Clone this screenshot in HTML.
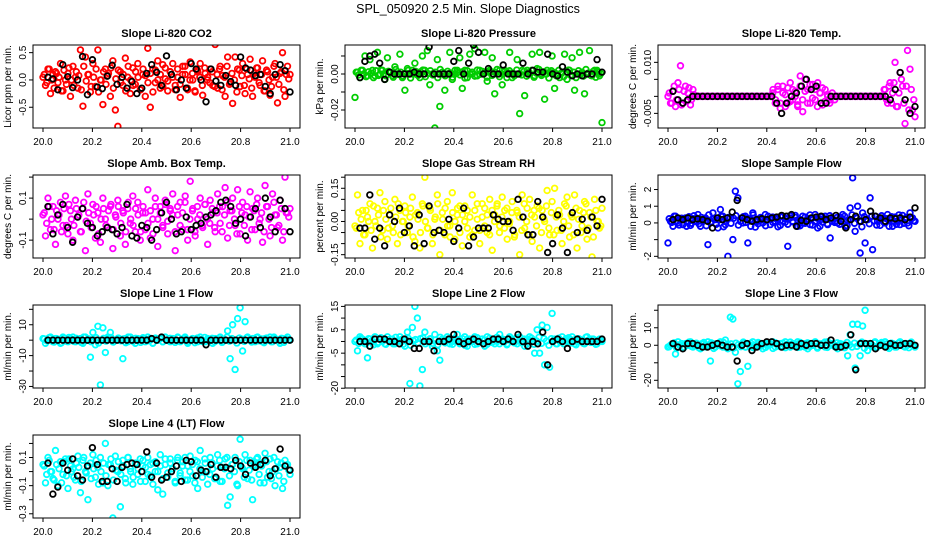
<!DOCTYPE html>
<html><head><meta charset="utf-8"><style>
html,body{margin:0;padding:0;background:#fff;}
svg{display:block;font-family:"Liberation Sans",Arial,sans-serif;}
</style></head><body>
<svg id="chart" width="936" height="540" viewBox="0 0 936 540" xmlns="http://www.w3.org/2000/svg">
<rect width="936" height="540" fill="#fff"/>
<text x="468" y="13" text-anchor="middle" font-size="12.5">SPL_050920  2.5 Min. Slope Diagnostics</text>
</svg>
<script>
const xTicks = [20.0, 20.2, 20.4, 20.6, 20.8, 21.0];
const xTickLabels = ["20.0", "20.2", "20.4", "20.6", "20.8", "21.0"];
const panelTitles = ["Slope Li-820 CO2","Slope Li-820 Pressure","Slope Li-820 Temp.","Slope Amb. Box Temp.","Slope Gas Stream RH","Slope Sample Flow","Slope Line 1 Flow","Slope Line 2 Flow","Slope Line 3 Flow","Slope Line 4 (LT) Flow"];
const yTitles = ["Licor ppm per min.","kPa per min.","degrees C per min.","degrees C per min.","percent per min.","ml/min per min.","ml/min per min.","ml/min per min.","ml/min per min.","ml/min per min."];
const seriesColors = ["#ff0000","#00cd00","#ff00ff","#ff00ff","#ffff00","#0000ff","#00ffff","#00ffff","#00ffff","#00ffff"];
const yDomains = [[-0.88,0.64],[-0.030,0.0161],[-0.0093,0.0151],[-0.185,0.21],[-0.165,0.21],[-2.1,2.87],[-31,22.8],[-19.9,15.6],[-24.4,23],[-0.33,0.26]];
const yTicks = [[-0.5,0,0.5],[-0.02,-0.01,0,0.01],[-0.005,0,0.005,0.01],[-0.1,0,0.1,0.2],[-0.15,-0.1,-0.05,0,0.05,0.1,0.15,0.2],[-2,-1,0,1,2],[-30,-20,-10,0,10,20],[-20,-15,-10,-5,0,5,10,15],[-20,-10,0,10,20],[-0.3,-0.2,-0.1,0,0.1,0.2]];
const yTickLabels = [{"-0.5":"-0.5","0":"0.0","0.5":"0.5"},{"-0.02":"-0.02","0":"0.00"},{"-0.005":"-0.005","0.01":"0.010"},{"-0.1":"-0.1","0.1":"0.1"},{"-0.15":"-0.15","0":"0.00","0.15":"0.15"},{"-2":"-2","0":"0","1":"1","2":"2"},{"-30":"-30","-10":"-10","10":"10"},{"-20":"-20","-5":"-5","5":"5","15":"15"},{"-20":"-20","0":"0","10":"10"}, {"-0.3":"-0.3","-0.1":"-0.1","0.1":"0.1"}];

const co2 = [0.05,-0.1,0.2,-0.25,0.1,0.15,-0.05,0.3,-0.2,0.0,0.12,-0.3,0.25,0.05,-0.15,0.55,-0.48,0.42,0.1,-0.22,0.3,-0.12,0.55,0.0,-0.45,0.2,0.08,-0.3,0.35,-0.55,-0.85,0.15,-0.1,0.4,0.05,-0.25,0.22,-0.08,0.3,-0.18,0.1,-0.3,0.58,-0.5,0.2,-0.05,0.35,-0.15,0.28,0.02,-0.2,0.15,0.3,-0.1,0.05,-0.32,0.25,0.1,-0.18,0.33,0.0,-0.22,0.15,0.3,-0.28,0.12,0.05,0.2,-0.1,0.65,-0.15,0.25,0.08,-0.3,0.42,-0.05,-0.43,0.42,0.2,-0.12,0.3,-0.25,0.1,0.38,-0.3,0.05,0.22,-0.1,0.35,-0.2,0.15,-0.28,0.05,0.3,-0.42,0.12,0.5,-0.3,0.25,0.1];
const co2Core = [0.1,-0.05,0.2,0.0,-0.15,0.12,0.05,-0.2,0.18,-0.08,0.22,0.0,-0.1,0.15,0.08,-0.18,0.25,-0.02,0.1,-0.12,0.05,0.2,-0.22,0.0,0.15,-0.08,0.12,0.22,-0.15,0.02,0.18,-0.05,0.1,-0.2,0.25,0.0,-0.1,0.15,0.05,-0.18,0.2,0.08,-0.05,0.12,-0.22,0.18,0.0,0.1,-0.12,0.22,-0.02,0.15,0.05,-0.18,0.2,-0.08,0.1,0.25,-0.15,0.0,0.12,-0.2,0.18,0.05,-0.1,0.22,0.0,-0.05,0.15,-0.12,0.1,0.2,-0.18,0.05,0.25,-0.08,0.12,0.0,-0.22,0.18,0.08,-0.1,0.2,0.02,-0.15,0.12,0.22,-0.05,0.1,-0.2,0.18,0.0,-0.12,0.25,0.05,-0.08,0.15,-0.18,0.1,0.02];
const co2Black = [0.05,0.02,-0.18,0.28,0.06,-0.14,0.0,0.43,-0.27,0.37,-0.13,-0.16,0.07,0.27,-0.08,0.05,-0.15,-0.03,-0.25,-0.15,0.12,0.28,0.14,-0.1,0.44,0.1,-0.18,0.0,-0.15,0.3,0.2,0.0,-0.4,0.2,-0.02,-0.1,0.08,-0.03,-0.1,0.42,0.22,0.18,0.08,0.1,-0.12,-0.25,0.1,0.28,0.17,-0.22];
const pressure = [-0.013,0.001,-0.002,0.002,0.01,-0.001,0.008,0.002,-0.001,0.012,0.0,0.002,-0.003,0.009,0.001,-0.001,0.004,0.0,0.011,-0.002,-0.009,0.003,0.0,0.002,0.006,0.0,-0.002,0.01,0.002,0.013,-0.006,0.0,-0.03,0.008,-0.018,0.001,-0.009,0.0,0.012,-0.003,0.0,0.002,0.009,-0.008,0.002,-0.002,0.011,0.0,0.014,-0.001,0.002,0.0,0.012,-0.004,0.001,0.009,-0.011,0.0,0.002,-0.006,0.002,0.001,0.012,-0.002,0.0,0.008,-0.022,0.002,-0.012,0.002,0.0,0.011,-0.001,0.003,0.012,0.0,-0.014,0.002,0.001,0.01,-0.008,0.0,-0.002,0.001,0.011,-0.003,0.002,0.009,-0.009,0.0,0.012,0.001,-0.011,0.0,0.013,-0.001,0.002,0.002,-0.001,-0.027];
const pressureCore = [0.001,-0.0005,0.002,0.0,-0.0015,0.0012,0.0005,-0.002,0.0018,-0.0008,0.0022,0.0,-0.001,0.0015,0.0008,-0.0018,0.0025,-0.0002,0.001,-0.0012,0.0005,0.002,-0.0022,0.0,0.0015,-0.0008,0.0012,0.0022,-0.0015,0.0002,0.0018,-0.0005,0.001,-0.002,0.0025,0.0,-0.001,0.0015,0.0005,-0.0018,0.002,0.0008,-0.0005,0.0012,-0.0022,0.0018,0.0,0.001,-0.0012,0.0022,-0.0002,0.0015,0.0005,-0.0018,0.002,-0.0008,0.001,0.0025,-0.0015,0.0,0.0012,-0.002,0.0018,0.0005,-0.001,0.0022,0.0,-0.0005,0.0015,-0.0012,0.001,0.002,-0.0018,0.0005,0.0025,-0.0008,0.0012,0.0,-0.0022,0.0018,0.0008,-0.001,0.002,0.0002,-0.0015,0.0012,0.0022,-0.0005,0.001,-0.002,0.0018,0.0,-0.0012,0.0025,0.0005,-0.0008,0.0015,-0.0018,0.001,0.0002];
const pressureBlack = [-0.002,0.007,0.01,0.011,0.006,-0.003,0.001,0.0,0.0,0.0,0.0,0.001,0.0,0.0,0.015,0.0,0.0,0.0,0.0,0.007,0.013,0.0,0.006,0.016,0.012,0.0,0.003,0.0,0.0,0.005,0.0,0.0,0.0,0.006,0.0,0.002,0.001,0.001,0.011,0.0,-0.001,0.004,0.001,-0.001,0.0,-0.001,0.0,0.0,0.008,0.001];
const licorTemp = [0,-0.002,0.0015,-0.003,0.004,0.009,-0.002,0.003,0.001,-0.0025,0.002,0,0,0,0,0,0,0,0,0,0,0,0,0,0,0,0,0,0,0,0,0,0,0,0,0,0,0,0,0,0,0,0.001,-0.002,0.002,-0.0035,0.003,0.0005,-0.002,0.004,-0.001,0.0015,-0.003,0.006,-0.0045,0.005,0.002,-0.002,0.0035,-0.001,0.004,0.001,-0.0025,0.002,0.0,-0.001,0.0,0.0,0,0,0,0,0,0,0,0,0,0,0,0,0,0,0,0,0,0,0,0.002,-0.002,0.004,0.001,0.01,-0.003,0.007,0.003,-0.008,0.0135,0.008,-0.004,-0.006];
const licorTempCore = [0.001,-0.002,0.003,-0.001,0.002,-0.0025,0.0015,-0.0015,0.0025,-0.001,0.0005,0,0,0,0,0,0,0,0,0,0,0,0,0,0,0,0,0,0,0,0,0,0,0,0,0,0,0,0,0,0,0,0.002,-0.001,0.003,-0.002,0.001,-0.003,0.0025,-0.0015,0.002,0.0,-0.0025,0.003,-0.001,0.0015,-0.002,0.0035,-0.0005,0.002,-0.003,0.001,0.0025,-0.0015,0.0005,-0.002,0.001,-0.001,0,0,0,0,0,0,0,0,0,0,0,0,0,0,0,0,0,0,0,0.002,-0.001,0.003,-0.002,0.004,-0.003,0.001,0.005,-0.002,0.003,-0.004,0.002,-0.001];
const licorTempBlack = [0.0015,-0.001,-0.002,-0.001,0,0,0,0,0,0,0,0,0,0,0,0,0,0,0,0,0,-0.002,-0.005,-0.002,0,0.001,0.003,0.005,0.002,0.003,-0.002,-0.002,0.0,0,0,0,0,0,0,0,0,0,0,0,-0.001,0.002,0.007,-0.001,-0.005,-0.003];
const ambTemp = [0.02,-0.08,0.1,-0.05,0.06,-0.12,0.0,0.08,-0.03,0.11,-0.07,0.04,-0.1,0.09,0.01,-0.06,0.05,-0.15,0.12,-0.02,0.07,-0.09,0.03,-0.11,0.1,0.0,-0.04,0.06,-0.14,0.02,0.09,-0.08,0.04,-0.12,0.05,-0.02,0.11,-0.06,0.08,-0.1,0.03,-0.05,0.14,-0.09,0.0,0.1,-0.13,0.06,-0.03,0.09,-0.07,0.04,0.12,-0.15,0.02,0.08,-0.05,0.11,-0.1,0.18,0.05,-0.08,0.0,0.1,-0.04,0.07,-0.12,0.09,0.03,-0.06,0.12,-0.02,0.06,0.15,-0.09,0.04,0.1,-0.03,0.14,-0.07,0.08,0.02,-0.1,0.13,0.05,-0.05,0.1,0.0,-0.11,0.16,0.06,-0.08,0.12,0.02,-0.04,0.09,-0.1,0.2,0.03,0.05];
const ambTempCore = [0.03,-0.02,0.06,0.0,-0.05,0.04,0.02,-0.06,0.05,-0.03,0.07,0.0,-0.03,0.05,0.02,-0.06,0.08,-0.01,0.03,-0.04,0.02,0.06,-0.07,0.0,0.05,-0.03,0.04,0.07,-0.05,0.01,0.06,-0.02,0.03,-0.06,0.08,0.0,-0.03,0.05,0.02,-0.06,0.06,0.03,-0.02,0.04,-0.07,0.06,0.0,0.03,-0.04,0.07,-0.01,0.05,0.02,-0.06,0.06,-0.03,0.03,0.08,-0.05,0.0,0.04,-0.06,0.06,0.02,-0.03,0.07,0.0,-0.02,0.05,-0.04,0.03,0.06,-0.06,0.02,0.08,-0.03,0.04,0.0,-0.07,0.06,0.03,-0.03,0.06,0.01,-0.05,0.04,0.07,-0.02,0.03,-0.06,0.06,0.0,-0.04,0.08,0.02,-0.03,0.05,-0.06,0.03,0.01];
const ambTempBlack = [0.06,-0.07,0.02,0.07,-0.04,-0.11,0.01,0.05,-0.02,-0.04,-0.08,-0.06,-0.04,-0.05,-0.07,-0.04,0.07,-0.08,-0.09,-0.03,-0.04,-0.1,-0.05,0.03,0.08,0.0,-0.07,-0.06,0.01,-0.05,-0.03,-0.02,0.01,0.02,0.04,0.08,0.09,0.06,-0.02,0.0,-0.08,0.01,0.05,-0.04,0.1,0.01,-0.06,0.09,0.05,-0.06];
const rh = [-0.02,0.12,-0.1,0.05,-0.06,0.02,0.08,-0.12,0.0,0.06,0.13,-0.04,0.09,-0.08,0.03,-0.02,0.1,-0.1,0.05,0.0,0.07,-0.05,0.02,0.11,-0.09,0.04,-0.12,0.08,0.2,-0.03,0.06,-0.1,0.01,0.12,-0.15,0.04,-0.06,0.09,-0.02,0.13,-0.08,0.03,0.07,-0.11,0.0,0.05,-0.07,0.12,-0.04,0.08,-0.1,0.02,0.06,-0.05,0.1,-0.13,0.03,0.08,-0.02,0.11,0.05,-0.08,0.0,0.09,-0.06,0.04,-0.15,0.12,-0.03,0.06,0.1,-0.09,0.02,0.07,-0.12,0.05,0.0,0.14,-0.06,0.09,0.15,-0.04,0.03,-0.1,0.08,0.11,-0.07,0.02,0.12,-0.12,0.05,-0.02,0.09,-0.08,0.04,-0.16,0.1,0.0,-0.03,0.06];
const rhCore = [-0.03,0.04,0.01,-0.06,0.05,0.0,-0.04,0.07,-0.02,0.03,-0.07,0.05,0.01,-0.03,0.06,-0.05,0.02,0.08,-0.06,0.0,0.04,-0.02,0.06,-0.07,0.03,0.01,-0.05,0.07,0.0,-0.03,0.05,-0.06,0.02,0.08,-0.04,0.01,0.06,-0.02,-0.07,0.04,0.0,0.06,-0.05,0.03,0.07,-0.03,0.02,-0.06,0.05,0.01,-0.04,0.08,-0.02,0.03,-0.06,0.05,0.0,0.07,-0.05,0.02,-0.03,0.06,-0.01,0.04,-0.07,0.05,0.02,-0.04,0.08,0.0,-0.06,0.03,0.05,-0.02,0.06,-0.05,0.01,0.07,-0.03,0.04,-0.06,0.02,0.05,-0.04,0.0,0.07,-0.02,0.03,-0.06,0.06,0.01,-0.05,0.04,0.08,-0.03,0.02,-0.07,0.05,0.0,-0.02];
const rhBlack = [-0.03,-0.03,0.12,-0.08,-0.03,-0.11,0.03,0.0,0.06,-0.05,-0.02,-0.11,0.03,-0.1,0.07,-0.05,-0.04,-0.05,0.01,-0.09,-0.03,0.06,-0.11,-0.07,-0.03,-0.03,-0.03,0.03,0.01,0.0,0.0,-0.04,0.1,0.02,-0.06,-0.06,0.09,0.02,-0.14,-0.1,0.03,-0.03,-0.14,0.04,-0.05,0.01,-0.04,0.02,-0.02,0.1];
const sampleFlow = [-1.2,0.1,-0.2,0.4,0.0,0.2,-0.1,0.3,0.05,-0.15,0.25,0.1,0.5,-0.2,0.15,0.3,-1.3,0.0,0.6,0.2,-0.3,0.8,0.4,-0.1,-2.0,0.3,-1.0,1.9,1.5,0.1,0.0,0.4,-1.2,0.2,0.6,-0.25,0.1,0.3,0.0,0.5,0.2,-0.1,0.35,0.1,0.25,-0.15,0.4,0.05,-1.4,0.3,0.1,0.45,-0.2,0.2,0.0,0.35,0.15,-0.1,0.3,0.5,-0.3,0.2,0.05,0.4,-0.1,-0.9,0.25,0.1,0.0,0.35,0.5,-0.2,0.15,0.9,2.7,-0.5,1.0,-1.8,0.6,-1.2,0.2,1.5,-1.6,0.4,0.1,-0.15,0.3,0.0,0.5,0.2,-0.2,0.35,0.1,-0.1,0.45,0.25,0.0,0.6,0.3,0.1];
const sampleFlowCore = [0.25,0.03,0.4,0.1,-0.13,0.28,0.18,-0.2,0.37,-0.02,0.43,0.1,-0.05,0.33,0.22,-0.17,0.48,0.07,0.25,-0.08,0.18,0.4,-0.23,0.1,0.33,-0.02,0.28,0.43,-0.13,0.13,0.37,0.03,0.25,-0.2,0.48,0.1,-0.05,0.33,0.18,-0.17,0.4,0.22,0.03,0.28,-0.23,0.37,0.1,0.25,-0.08,0.43,0.07,0.33,0.18,-0.17,0.4,-0.02,0.25,0.48,-0.13,0.1,0.28,-0.2,0.37,0.18,-0.05,0.43,0.1,0.03,0.33,-0.08,0.25,0.4,-0.17,0.18,0.48,-0.02,0.28,0.1,-0.23,0.37,0.22,-0.05,0.4,0.13,-0.13,0.28,0.43,0.03,0.25,-0.2,0.37,0.1,-0.08,0.48,0.18,-0.02,0.33,-0.17,0.25,0.13];
const sampleFlowBlack = [0.2,0.3,0.2,0.3,0.2,0.25,0.2,0.1,-0.3,0.3,0.2,0.3,0.65,1.35,0.3,0.2,0.1,0.2,0.25,0.2,0.3,0.35,0.45,0.4,0.5,-0.2,0.15,0.1,0.3,0.35,0.4,0.2,0.3,0.45,0.1,-0.3,0.2,0.4,0.1,0.2,0.7,0.4,0.3,0.1,0.3,0.25,0.3,0.2,0.35,0.9];
const line1 = [1,-2,0,2,-1,1,0,-2,2,0,-1,1,2,-1,0,1,-2,2,0,-11,5,-3,9,-29,8,-8,2,5,-1,0,1,0,-12,1,-1,2,0,-2,1,0,1,-1,2,0,-2,1,0,1,-1,2,0,-1,1,0,2,-1,0,1,-2,0,1,0,-1,2,0,-1,1,0,-2,1,0,2,-1,0,6,-12,10,-19,14,21,-7,12,2,0,1,-1,2,0,-1,1,0,2,-1,1,0,-2,1,0,2,0];
const line1Core = [0.8,-0.4,1.6,0,-1.2,1,0.4,-1.6,1.4,-0.6,1.8,0,-0.8,1.2,0.6,-1.4,2,-0.2,0.8,-1,0.4,1.6,-1.8,0,1.2,-0.6,1,1.8,-1.2,0.2,1.4,-0.4,0.8,-1.6,2,0,-0.8,1.2,0.4,-1.4,1.6,0.6,-0.4,1,-1.8,1.4,0,0.8,-1,1.8,-0.2,1.2,0.4,-1.4,1.6,-0.6,0.8,2,-1.2,0,1,-1.6,1.4,0.4,-0.8,1.8,0,-0.4,1.2,-1,0.8,1.6,-1.4,0.4,2,-0.6,1,0,-1.8,1.4,0.6,-0.8,1.6,0.2,-1.2,1,1.8,-0.4,0.8,-1.6,1.4,0,-1,2,0.4,-0.6,1.2,-1.4,0.8,0.2];
const line1Black = [0,0,0,0,0,0,0,0,0,0,0,0,0,0,0,0,0,0,0,0,0,1,0,2,0,0,0,0,0,0,0,0,-3,0,0,0,0,0,0,0,0,0,0,0,0,0,0,0,0,0];
const line2 = [0,-4,2,1,-1,-7,1,0,2,-1,1,0,-1,2,0,1,-1,0,2,1,-2,4,-18,6,15,10,-19,-12,4,0,1,-2,3,-4,-8,1,0,2,-1,0,1,3,-1,0,2,-2,1,0,2,-1,0,1,-2,2,0,1,-1,0,3,1,0,-1,2,0,1,-1,2,0,-2,1,2,0,-5,5,-5,7,-10,6,-11,12,1,-1,0,2,-1,0,1,2,-1,0,1,0,-1,2,0,1,0,-1,1,0];
const line2Core = [0.6,-0.8,1.4,0.2,-1,1.2,0,-1.4,1,-0.4,1.6,0.4,-1.2,0.8,-0.2,-1,1.8,0.2,0.6,-1.2,1,1.4,-1.6,0.4,0.8,-0.6,1.2,1.6,-1,0,1.2,-0.8,0.6,-1.4,1.8,0.2,-0.6,1,0.6,-1.2,1.4,0.4,-0.6,1.2,-1.6,1,0.2,0.6,-1.2,1.6,0,1,0.6,-1.2,1.4,-0.4,0.6,1.8,-1,0.2,0.8,-1.4,1.2,0.6,-0.6,1.6,0.2,-0.6,1,-1.2,0.6,1.4,-1.2,0.2,1.8,-0.8,1.2,0.2,-1.6,1.2,0.4,-1,1.4,0,-1,1.2,1.6,-0.6,0.6,-1.4,1.2,0.2,-0.8,1.8,0.6,-0.4,1,-1.2,0.6,0.4];
const line2Black = [0,0,-2,1,1,1,0,0,-1,1,0,-3,-3,0,0,-4,0,0,1,3,0,-1,0,1,0,-1,0,1,1,0,1,0,3,0,-2,0,-1,4,-10,0,1,0,-3,0,1,0,0,0,0,1];
const line3 = [-1,0,1,-5,2,0,-1,1,0,2,-1,1,0,-2,1,0,2,-9,1,-1,0,2,-1,3,-2,16,15,-4,-22,-15,1,-1,-12,0,2,-1,1,0,-2,1,0,1,2,-1,0,1,-1,2,0,-1,1,0,2,-1,0,1,-2,1,0,2,-1,0,1,-1,2,0,1,0,-2,1,0,-1,-6,6,12,-13,12,-6,11,20,-3,1,0,2,-1,1,0,2,-1,0,1,-1,0,2,1,-1,0,1,0,-1];
const line3Core = [-0.8,0.6,1.4,-1.6,0.2,1,-1.2,0.4,1.8,-0.6,0,1.2,-1.4,0.8,1.6,-1,0.2,1.4,-1.8,0.6,1,-0.4,1.6,-1.2,0,0.8,-1.6,1.2,0.4,-0.8,1.8,-1,0.6,1.2,-1.4,0.2,1.6,-0.6,0.8,-1.2,1,0.4,-1.8,1.4,0,-0.8,1.2,-1.4,0.6,1.8,-0.4,0.8,-1.2,1.6,0.2,-1,1.4,-0.6,0.4,1.2,-1.6,0.8,0,1.8,-1.2,0.6,1,-0.8,1.4,-0.2,0.6,-1.4,1.6,0.2,-1,1.2,-0.6,0.8,1.8,-1.6,0.4,1,-0.8,1.4,-1.2,0,1.6,-0.4,0.8,-1.8,1.2,0.6,-1,1.4,0.2,-0.6,1,-1.4,1.8,0];
const line3Black = [1,-1,-2,1,1,0,-1,-1,0,1,0,-1,-1,-9,0,1,-3,-1,1,2,2,1,-1,0,0,-1,1,0,1,1,0,0,3,-1,-1,0,6,-14,1,1,1,-2,0,-1,1,0,0,1,1,0];
const line4 = [0.05,-0.08,0.1,0.0,-0.05,0.15,-0.1,0.07,-0.02,0.09,-0.12,0.04,0.02,-0.06,0.11,-0.15,0.08,0.0,-0.2,0.06,0.12,-0.04,0.03,0.1,-0.08,0.2,-0.1,0.05,-0.33,0.11,0.0,-0.25,0.08,-0.05,0.1,0.02,-0.09,0.06,-0.02,0.09,0.04,-0.07,0.1,-0.03,0.06,0.0,-0.13,0.12,-0.16,0.05,-0.04,0.09,0.02,-0.08,0.1,-0.01,0.07,-0.06,0.04,0.11,-0.03,0.08,-0.12,0.15,0.0,0.06,-0.09,0.1,0.02,-0.05,0.12,-0.07,0.03,0.09,-0.24,-0.18,0.05,0.1,-0.1,0.23,0.02,0.12,-0.05,0.08,-0.2,0.04,0.1,-0.08,0.06,0.13,-0.04,0.09,0.0,-0.1,0.07,0.03,-0.12,0.08,0.05,-0.02];
const line4Core = [0.04,-0.02,0.08,0,-0.06,0.05,0.02,-0.08,0.07,-0.03,0.09,0,-0.04,0.06,0.03,-0.07,0.1,-0.01,0.04,-0.05,0.02,0.08,-0.09,0,0.06,-0.03,0.05,0.09,-0.06,0.01,0.07,-0.02,0.04,-0.08,0.1,0,-0.04,0.06,0.02,-0.07,0.08,0.03,-0.02,0.05,-0.09,0.07,0,0.04,-0.05,0.09,-0.01,0.06,0.02,-0.07,0.08,-0.03,0.04,0.1,-0.06,0,0.05,-0.08,0.07,0.02,-0.04,0.09,0,-0.02,0.06,-0.05,0.04,0.08,-0.07,0.02,0.1,-0.03,0.05,0,-0.09,0.07,0.03,-0.04,0.08,0.01,-0.06,0.05,0.09,-0.02,0.04,-0.08,0.07,0,-0.05,0.1,0.02,-0.03,0.06,-0.07,0.04,0.01];
const line4Black = [0.06,-0.16,-0.11,0.06,0.01,0.09,-0.03,-0.06,0.04,0.17,0.05,-0.07,-0.07,0.02,-0.07,0.03,0.05,0.06,0.05,0.0,0.14,-0.04,0.06,-0.06,-0.04,0.0,0.04,-0.07,0.08,0.07,-0.03,0.01,0.0,0.05,-0.04,0.03,0.03,0.02,0.08,0.04,-0.02,0.06,0.03,0.05,0.08,-0.03,0.02,0.16,0.04,0.01];

const colorSeries = [co2, pressure, licorTemp, ambTemp, rh, sampleFlow, line1, line2, line3, line4];
const coreSeries = [co2Core, pressureCore, licorTempCore, ambTempCore, rhCore, sampleFlowCore, line1Core, line2Core, line3Core, line4Core];
const blackSeries = [co2Black, pressureBlack, licorTempBlack, ambTempBlack, rhBlack, sampleFlowBlack, line1Black, line2Black, line3Black, line4Black];

const NS = "http://www.w3.org/2000/svg";
const svg = document.getElementById('chart');
const colLefts = [33, 345, 658], rowTops = [45, 175, 305, 435], boxW = 267, boxH = 83;
function mk(tag, attrs, parent){const e=document.createElementNS(NS,tag);for(const k in attrs)e.setAttribute(k,attrs[k]);(parent||svg).appendChild(e);return e;}
function slug(s){return s.toLowerCase().replace(/[^a-z0-9]+/g,'-').replace(/^-|-$/g,'');}

panelTitles.forEach((title, p) => {
  const L = colLefts[p % 3], T = rowTops[Math.floor(p / 3)];
  const B = T + boxH;
  const xs = v => (L + 10) + (v - 20) * (boxW - 20);
  const [d0, d1] = yDomains[p];
  const ys = v => B - (v - d0) / (d1 - d0) * boxH;
  const g = mk('g', {});
  
  

  const t = mk('text', {x: L + boxW / 2, y: T - 8, 'text-anchor': 'middle', 'font-size': 11, 'font-weight': 'bold'}, g);
  t.textContent = title;
  
  

  const clip = mk('clipPath', {id: 'clip' + p}, g);
  mk('rect', {x: L, y: T, width: boxW, height: boxH}, clip);
  const pts = mk('g', {'clip-path': 'url(#clip' + p + ')'}, g);
  
  
  const core = coreSeries[p];
  core.forEach((v, i) => {
    const c = mk('circle', {cx: xs(20.005 + 0.99 * i / (core.length - 1)), cy: ys(v), r: 2.8, fill: 'none', stroke: seriesColors[p], 'stroke-width': 1.8}, pts);
    
    
  });
  const cs = colorSeries[p];
  cs.forEach((v, i) => {
    const c = mk('circle', {cx: xs(20 + i / (cs.length - 1)), cy: ys(v), r: 2.8, fill: 'none', stroke: seriesColors[p], 'stroke-width': 1.8}, pts);
    
    
  });
  const bs = blackSeries[p];
  bs.forEach((v, i) => {
    const c = mk('circle', {cx: xs(20.02 + 0.98 * i / (bs.length - 1)), cy: ys(v), r: 2.8, fill: 'none', stroke: '#000', 'stroke-width': 1.8}, pts);
    
    
  });

  const box = mk('rect', {x: L, y: T, width: boxW, height: boxH, fill: 'none', stroke: '#000', 'stroke-width': 1}, g);
  
  

  const xa = mk('g', {}, g);
  
  
  mk('line', {x1: xs(20), x2: xs(21), y1: B, y2: B, stroke: '#000'}, xa);
  xTicks.forEach((v, i) => {
    mk('line', {x1: xs(v), x2: xs(v), y1: B, y2: B + 4, stroke: '#000'}, xa);
    const tl = mk('text', {x: xs(v), y: B + 17, 'text-anchor': 'middle', 'font-size': 10}, xa);
    tl.textContent = xTickLabels[i];
    
    
  });

  const ya = mk('g', {}, g);
  
  
  const tk = yTicks[p];
  mk('line', {x1: L, x2: L, y1: ys(tk[0]), y2: ys(tk[tk.length - 1]), stroke: '#000'}, ya);
  tk.forEach(v => {
    const y = ys(v);
    mk('line', {x1: L - 4, x2: L, y1: y, y2: y, stroke: '#000'}, ya);
    const lab = yTickLabels[p][String(v)];
    if (lab !== undefined) {
      const tl = mk('text', {x: 0, y: 0, 'text-anchor': 'middle', 'font-size': 10, transform: 'translate(' + (L - 7) + ',' + y + ') rotate(-90)'}, ya);
      tl.textContent = lab;
      
      
    }
  });
  const yt = mk('text', {x: 0, y: 0, 'text-anchor': 'middle', 'font-size': 10, transform: 'translate(' + (L - 22) + ',' + (T + boxH / 2) + ') rotate(-90)'}, ya);
  yt.textContent = yTitles[p];
  
  
});
</script>
</body></html>
